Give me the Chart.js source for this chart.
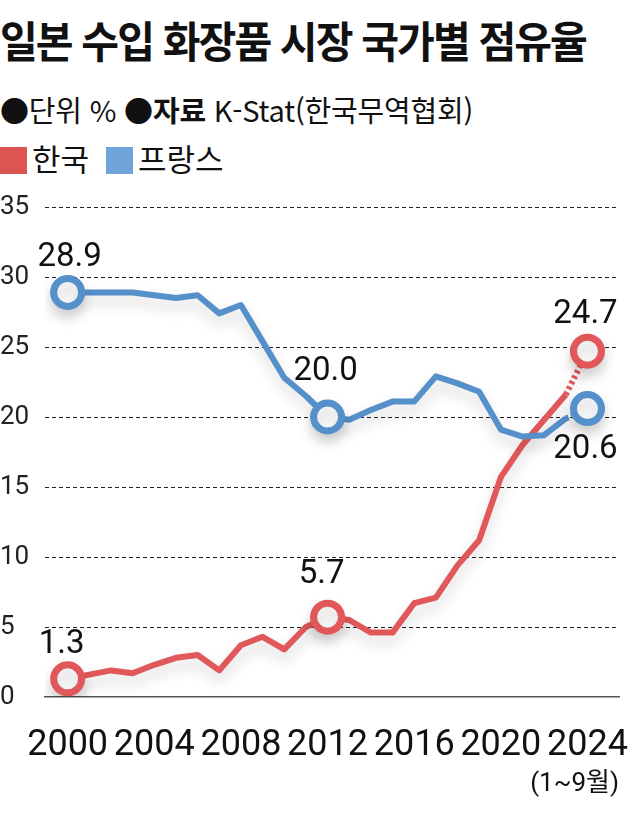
<!DOCTYPE html>
<html lang="ko">
<head>
<meta charset="utf-8">
<title>일본 수입 화장품 시장 국가별 점유율</title>
<script src="https://cdn.jsdelivr.net/npm/chart.js@4/dist/chart.umd.min.js"></script>
<style>
  html, body { margin: 0; padding: 0; background: #fff; }
  body { width: 640px; height: 818px; position: relative; overflow: hidden; color: #111; }
  .title {
    position: absolute; left: 0; top: 18px; white-space: nowrap;
    font: 700 43px/1 'Noto Sans CJK KR', sans-serif; letter-spacing: -2px;
    transform-origin: 0 0; transform: scaleX(0.955);
  }
  .sub {
    position: absolute; left: 0; top: 95px; white-space: nowrap;
    font: 400 29px/1 'Noto Sans CJK KR', sans-serif; letter-spacing: -0.2px;
  }
  .sub b { font-weight: 700; }
  .legend { position: absolute; left: 0; top: 142px; height: 32px; font: 400 31px/1 'Noto Sans CJK KR', sans-serif; }
  .legend i { position: absolute; top: 5px; width: 27px; height: 27px; }
  .legend span { position: absolute; top: 0; white-space: nowrap; letter-spacing: 0; }
  .wrap { position: absolute; left: 0; top: 180px; width: 640px; height: 638px; }
</style>
</head>
<body>
<div class="title">일본 수입 화장품 시장 국가별 점유율</div>
<div class="sub">●단위 % ●<b>자료</b> K-Stat(한국무역협회)</div>
<div class="legend">
  <i style="left:0;background:#dc5552"></i><span style="left:32px">한국</span>
  <i style="left:106px;background:#6fa3d9"></i><span style="left:138px">프랑스</span>
</div>
<div class="wrap"><canvas id="chart"></canvas></div>
<script>
// 일본 수입 화장품 시장 국가별 점유율 (%)
const years = [2000, 2001, 2002, 2003, 2004, 2005, 2006, 2007, 2008, 2009, 2010, 2011, 2012,
  2013, 2014, 2015, 2016, 2017, 2018, 2019, 2020, 2021, 2022, 2023, 2024];
const korea = [1.3, 1.6, 1.9, 1.7, 2.3, 2.8, 3.0, 1.9, 3.7, 4.3, 3.4, 5.0, 5.7,
  5.5, 4.6, 4.6, 6.7, 7.1, 9.4, 11.2, 15.7, 18.0, 19.8, 21.6, 24.7];
const france = [28.9, 28.9, 28.9, 28.9, 28.7, 28.5, 28.7, 27.4, 28.0, 25.4, 22.8, 21.5, 20.0,
  19.8, 20.5, 21.1, 21.1, 22.9, 22.4, 21.8, 19.1, 18.6, 18.7, 19.9, 20.6];
const yearTicks = [2000, 2004, 2008, 2012, 2016, 2020, 2024];
const markerIdx = [0, 12, 24];

const RED = '#e0585a';
const BLUE = '#5590cb';

// label offsets from the marker centre (px): [dx, dy] per marker
const labelOffsets = {
  korea: [[-6, -26], [-6, -34], [-2, -28]],
  france: [[2, -26], [-2, -37], [-2, 49]]
};

const toPoints = vals => vals.map((v, i) => ({ x: years[i], y: v }));

const shadowPlugin = {
  id: 'shadow',
  beforeDatasetDraw(chart) {
    const ctx = chart.ctx;
    ctx.save();
    ctx.shadowColor = 'rgba(0,0,0,0.17)';
    ctx.shadowBlur = 14;
    ctx.shadowOffsetY = 8;
  },
  afterDatasetDraw(chart) {
    chart.ctx.restore();
  }
};

const valueLabels = {
  id: 'valueLabels',
  afterDatasetsDraw(chart) {
    const ctx = chart.ctx;
    ctx.save();
    ctx.font = '33px Roboto, sans-serif';
    ctx.fillStyle = '#111';
    ctx.textAlign = 'center';
    ctx.textBaseline = 'alphabetic';
    chart.data.datasets.forEach((ds, di) => {
      const meta = chart.getDatasetMeta(di);
      markerIdx.forEach((idx, k) => {
        const pt = meta.data[idx];
        const [dx, dy] = ds.labelOffsets[k];
        ctx.fillText(ds.data[idx].y.toFixed(1), pt.x + dx, pt.y + dy);
      });
    });
    ctx.restore();
  }
};

function makeSeries(label, vals, color, offsets) {
  return {
    label,
    data: toPoints(vals),
    borderColor: color,
    borderWidth: 6,
    borderJoinStyle: 'round',
    tension: 0,
    pointRadius: ctx => markerIdx.includes(ctx.dataIndex) ? 14 : 0,
    pointHoverRadius: ctx => markerIdx.includes(ctx.dataIndex) ? 14 : 0,
    pointBackgroundColor: '#fff',
    pointBorderColor: color,
    pointBorderWidth: 7,
    segment: {
      borderDash: ctx => ctx.p1DataIndex === years.length - 1 ? [3, 3] : undefined
    },
    labelOffsets: offsets
  };
}

new Chart(document.getElementById('chart'), {
  type: 'line',
  data: {
    datasets: [
      makeSeries('프랑스', france, BLUE, labelOffsets.france),
      makeSeries('한국', korea, RED, labelOffsets.korea)
    ]
  },
  options: {
    responsive: true,
    maintainAspectRatio: false,
    animation: false,
    layout: { padding: { top: 27, right: 12, bottom: 11, left: 0 } },
    plugins: {
      legend: { display: false },
      tooltip: { enabled: false }
    },
    scales: {
      x: {
        type: 'linear',
        min: 1998.955,
        max: 2025.455,
        afterBuildTicks: axis => { axis.ticks = yearTicks.map(v => ({ value: v })); },
        afterFit: axis => { axis.height = 110; axis.paddingLeft = 0; axis.paddingRight = 0; },
        grid: { display: false, drawTicks: false },
        border: { display: true, color: '#555', width: 1.5 },
        ticks: {
          autoSkip: false,
          maxRotation: 0,
          padding: 27,
          color: '#111',
          font: { family: 'Roboto, sans-serif', size: 36 },
          callback: v => String(v)
        },
        title: {
          display: true,
          text: '(1~9월)',
          align: 'end',
          color: '#111',
          padding: { top: 0, bottom: 7 },
          font: { family: "Roboto, 'Noto Sans CJK KR', sans-serif", size: 26 }
        }
      },
      y: {
        min: 0,
        max: 35,
        afterFit: axis => { axis.width = 45; axis.paddingTop = 0; axis.paddingBottom = 0; },
        ticks: {
          stepSize: 5,
          crossAlign: 'far',
          color: '#222',
          font: { family: 'Roboto, sans-serif', size: 26 }
        },
        grid: {
          drawTicks: false,
          lineWidth: 1,
          color: ctx => ctx.tick && ctx.tick.value === 0 ? 'rgba(0,0,0,0)' : '#222'
        },
        border: { display: false, dash: [4, 3] }
      }
    }
  },
  plugins: [shadowPlugin, valueLabels]
});
</script>
</body>
</html>
